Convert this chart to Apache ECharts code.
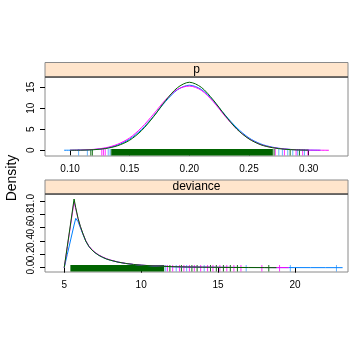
<!DOCTYPE html>
<html><head><meta charset="utf-8">
<script src="https://cdn.jsdelivr.net/npm/echarts@6/dist/echarts.min.js"></script>
<style>html,body{margin:0;padding:0;background:#fff}#c{width:360px;height:360px}</style>
</head><body><div id="c"></div>
<script>
// ---- data ----
const panelTitles = ['p', 'deviance'];
const chainColors = ['#0080ff', '#ff00ff', '#006400'];

const pTicksX = [0.10, 0.15, 0.20, 0.25, 0.30];
const pTicksY = [0, 5, 10, 15];
const devTicksX = [5, 10, 15, 20];
const devTicksY = [0.0, 0.2, 0.4, 0.6, 0.8, 1.0];

const pGrid = [0.095,0.10,0.11,0.12,0.13,0.14,0.15,0.16,0.17,0.18,0.19,0.20,0.21,0.22,0.23,0.24,0.25,0.26,0.27,0.28,0.29,0.30,0.31,0.317];
const pBlue = [0.01,0.02,0.06,0.18,0.5,1.25,2.65,4.95,8.1,11.6,14.4,15.5,14.5,11.8,8.4,5.3,2.95,1.5,0.72,0.32,0.12,0.04,0.01,null];
const pMagenta = [null,0.02,0.07,0.22,0.6,1.45,2.95,5.4,8.6,12.0,14.5,15.3,14.3,11.6,8.1,5.0,2.75,1.35,0.65,0.3,0.12,0.05,0.02,0.0];
const pGreen = [null,0.01,0.04,0.14,0.42,1.1,2.4,4.7,8.0,11.8,14.9,16.2,15.0,12.0,8.3,5.0,2.7,1.3,0.6,0.25,0.09,0.03,null,null];

const devGrid = [5.0,5.2,5.4,5.64,5.75,5.9,6.05,6.2,6.4,6.6,6.8,7.0,7.25,7.5,7.75,8.0,8.5,9,9.5,10,11,12,13,14,15,16,17,18,18.8,19.6,20,21,22,23.1];
const devBlue = [0,0.2,0.4,0.64,0.74,0.69,0.6,0.51,0.40,0.32,0.265,0.225,0.185,0.155,0.13,0.112,0.083,0.063,0.048,0.037,0.023,0.014,0.009,0.006,0.004,0.003,0.002,0.002,0.001,0.001,0.001,0.0005,0.0003,0];
const devMagenta = [0,0.31,0.62,0.99,0.88,0.73,0.615,0.52,0.405,0.325,0.27,0.23,0.19,0.16,0.135,0.115,0.085,0.064,0.049,0.038,0.025,0.016,0.011,0.008,0.006,0.004,0.003,0.002,0.001,0,null,null,null,null];
const devGreen = [0,0.32,0.64,1.03,0.90,0.74,0.62,0.52,0.40,0.32,0.265,0.225,0.185,0.155,0.13,0.112,0.083,0.063,0.048,0.037,0.024,0.015,0.01,0.007,0.005,0.003,0.002,0.001,0,null,null,null,null,null];

const pRugBlue = [0.1072,0.1145,0.1320,0.1336,0.2750,0.2780,0.2825,0.2867,0.2908,0.2965];
const pRugMagenta = [0.1266,0.1280,0.1295,0.2720,0.2797,0.2895,0.2950,0.2994];
const pRugGreen = [0.1174,0.1187,0.1346,0.2710,0.2845,0.2923];
const pBandGreen = [0.1350, 0.2700];

const devRugBlue = [11.6,12.28,12.96,14.1,16.83,19.7,22.7];
const devRugMagenta = [11.71,12.05,12.5,12.78,13.14,13.46,13.87,14.32,14.67,15.12,15.57,16.03,16.49,17.85,19.0];
const devRugGreen = [11.87,12.62,13.3,13.64,14.51,14.89,15.35,15.8,16.26,18.3];
const devBandGreen = [5.4, 11.5];

// ---- helpers ----
function zip(xs, ys){ const o=[]; for(let i=0;i<xs.length;i++){ if(ys[i]!==null) o.push([xs[i], ys[i]]);} return o; }
function lineSeries(idx, xs, ys, color, smooth){
  return {type:'line', xAxisIndex:idx, yAxisIndex:idx, data:zip(xs,ys), showSymbol:false, symbol:'none',
    smooth:smooth, lineStyle:{width:1, color:color}, silent:true, animation:false, clip:true};
}
function rugSeries(idx, vals, color, opacity){
  return {type:'custom', xAxisIndex:idx, yAxisIndex:idx, data:vals.map(v=>[v]), silent:true, animation:false,
    renderItem:function(params, api){
      const pt = api.coord([api.value(0), 0]);
      const cs = params.coordSys;
      const yb = cs.y + cs.height;
      return {type:'line', shape:{x1:pt[0], y1:yb-0.5, x2:pt[0], y2:yb-7}, style:{stroke:color, lineWidth:1, opacity:opacity}};
    }};
}
function bandSeries(idx, band, color){
  return {type:'custom', xAxisIndex:idx, yAxisIndex:idx, data:[[band[0], band[1]]], silent:true, animation:false,
    renderItem:function(params, api){
      const a = api.coord([api.value(0), 0]);
      const b = api.coord([api.value(1), 0]);
      const cs = params.coordSys;
      const yb = cs.y + cs.height;
      return {type:'rect', shape:{x:a[0], y:yb-7, width:b[0]-a[0], height:6.5}, style:{fill:color}};
    }};
}
const labelStyle = {color:'#000', fontSize:10, fontFamily:'Liberation Sans, Arial, sans-serif', hideOverlap:false, showMinLabel:true, showMaxLabel:true};
function xAx(idx, min, max, ticks, fmt){
  return {type:'value', gridIndex:idx, min:min, max:max, axisLine:{show:false},
    axisTick:{show:true, length:5, customValues:ticks, lineStyle:{color:'#000', width:1}},
    axisLabel:Object.assign({customValues:ticks, margin:8, formatter:fmt}, labelStyle),
    splitLine:{show:false}};
}
function yAx(idx, min, max, ticks, labels, fmt, showTicks){
  return {type:'value', gridIndex:idx, position:'left', offset:0, min:min, max:max, axisLine:{show:false},
    axisTick:{show:showTicks, length:5, customValues:ticks, lineStyle:{color:'#000', width:1}},
    axisLabel:Object.assign({customValues:labels, margin:9, rotate:90, formatter:fmt}, labelStyle),
    splitLine:{show:false}};
}

const chart = echarts.init(document.getElementById('c'), null, {renderer:'canvas'});
const L = 45, W = 303;
const devEven = devTicksY.filter((v,i)=>i%2===0);
const devOdd = devTicksY.filter((v,i)=>i%2===1);
chart.setOption({
  backgroundColor:'#fff',
  animation:false,
  grid:[
    {left:L, top:77, width:W, height:79, show:true, borderColor:'#8a8a8a', borderWidth:1, backgroundColor:'transparent'},
    {left:L, top:194, width:W, height:78, show:true, borderColor:'#8a8a8a', borderWidth:1, backgroundColor:'transparent'}
  ],
  xAxis:[
    xAx(0, 0.079, 0.333, pTicksX, v=>v.toFixed(2)),
    xAx(1, 3.75, 23.45, devTicksX, v=>String(v))
  ],
  yAxis:[
    yAx(0, -1.36, 17.45, pTicksY, pTicksY, v=>String(v), true),
    yAx(1, -0.065, 1.105, devTicksY, devEven, v=>v.toFixed(1), true),
    yAx(1, -0.065, 1.105, devTicksY, devOdd, v=>v.toFixed(1), false)
  ],
  graphic:[
    {type:'rect', shape:{x:L, y:62.5, width:W, height:14.5}, style:{fill:'#ffe5cc', stroke:'#8a8a8a', lineWidth:1}, z:10},
    {type:'line', shape:{x1:L, y1:77, x2:L+W, y2:77}, style:{stroke:'#222', lineWidth:1}, z:11},
    {type:'text', x:L+W/2, y:70, style:{text:panelTitles[0], fontSize:12, fill:'#000', align:'center', verticalAlign:'middle', fontFamily:'Liberation Sans, Arial, sans-serif'}, z:12},
    {type:'rect', shape:{x:L, y:180, width:W, height:14}, style:{fill:'#ffe5cc', stroke:'#8a8a8a', lineWidth:1}, z:10},
    {type:'line', shape:{x1:L, y1:194, x2:L+W, y2:194}, style:{stroke:'#222', lineWidth:1}, z:11},
    {type:'text', x:L+W/2, y:187, style:{text:panelTitles[1], fontSize:12, fill:'#000', align:'center', verticalAlign:'middle', fontFamily:'Liberation Sans, Arial, sans-serif'}, z:12},
    {type:'text', x:12, y:178, rotation:Math.PI/2, style:{text:'Density', fontSize:14, fill:'#000', align:'center', verticalAlign:'middle', fontFamily:'Liberation Sans, Arial, sans-serif'}, z:12}
  ],
  series:[
    lineSeries(0, pGrid, pBlue, chainColors[0], 0.3),
    rugSeries(0, pRugBlue, chainColors[0], 0.6),
    lineSeries(0, pGrid, pMagenta, chainColors[1], 0.3),
    rugSeries(0, pRugMagenta, chainColors[1], 0.8),
    lineSeries(0, pGrid, pGreen, chainColors[2], 0.3),
    bandSeries(0, pBandGreen, chainColors[2]),
    rugSeries(0, pRugGreen, chainColors[2], 0.9),

    lineSeries(1, devGrid, devBlue, chainColors[0], false),
    rugSeries(1, devRugBlue, chainColors[0], 0.6),
    lineSeries(1, devGrid, devMagenta, chainColors[1], false),
    rugSeries(1, devRugMagenta, chainColors[1], 0.8),
    lineSeries(1, devGrid, devGreen, chainColors[2], false),
    bandSeries(1, devBandGreen, chainColors[2]),
    rugSeries(1, devRugGreen, chainColors[2], 0.9)
  ]
});
</script>
</body></html>
